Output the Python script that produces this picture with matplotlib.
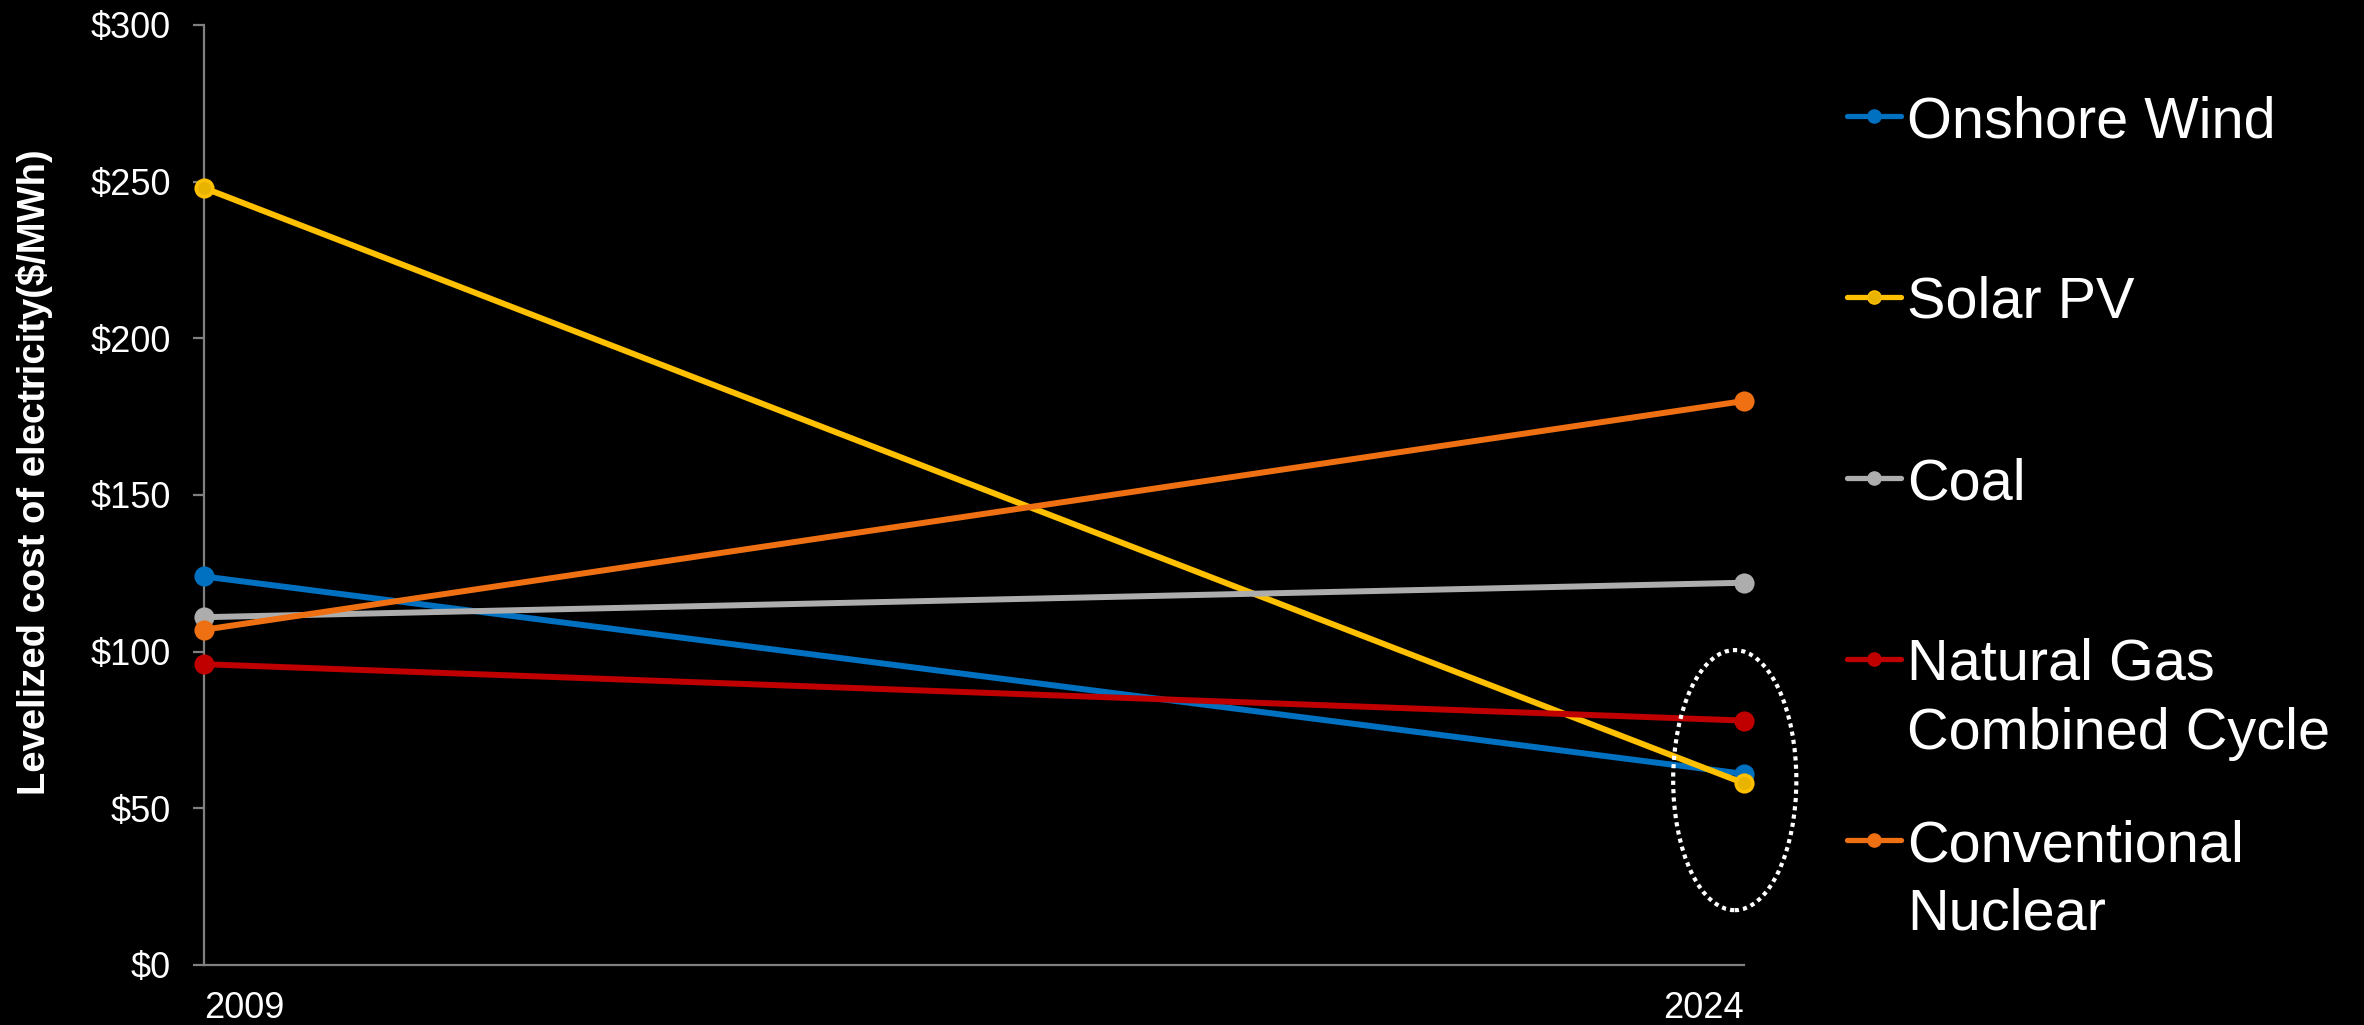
import matplotlib
matplotlib.use("Agg")
import matplotlib.pyplot as plt
from matplotlib.lines import Line2D
from matplotlib.patches import Ellipse

years = [2009, 2024]
series_names = ["Onshore Wind", "Solar PV", "Coal",
                "Natural Gas\nCombined Cycle", "Conventional\nNuclear"]
onshore_wind = [124, 61]
solar_pv = [248, 58]
coal = [111, 122]
natural_gas_cc = [96, 78]
conventional_nuclear = [107, 180]
series_values = [onshore_wind, solar_pv, coal, natural_gas_cc, conventional_nuclear]
colors = ["#0070C0", "#FFC000", "#ADADAD", "#C00000", "#EE7012"]
marker_faces = ["#0070C0", "#E8B400", "#ADADAD", "#C00000", "#EE7012"]
y_ticks = [0, 50, 100, 150, 200, 250, 300]
y_tick_labels = ["$0", "$50", "$100", "$150", "$200", "$250", "$300"]
x_tick_labels = ["2009", "2024"]
y_label = "Levelized cost of electricity($/MWh)"

plt.rcParams['font.family'] = ['Liberation Sans', 'DejaVu Sans']

W, H = 2364, 1025
fig = plt.figure(figsize=(W / 100, H / 100), dpi=100, facecolor="black")
ax = fig.add_axes([204 / W, 1 - 965 / H, (1744 - 204) / W, (965 - 25) / H])
ax.set_facecolor("black")

for vals, col, mf in zip(series_values, colors, marker_faces):
    ax.plot(years, vals, color=col, lw=4.3, marker="o", markersize=12,
            markeredgecolor=col, markerfacecolor=mf, markeredgewidth=2.5,
            solid_capstyle="round", clip_on=False, zorder=3)

ax.set_xlim(2009, 2024)
ax.set_ylim(0, 300)

for s in ["top", "right"]:
    ax.spines[s].set_visible(False)
for s in ["left", "bottom"]:
    ax.spines[s].set_color("#808080")
    ax.spines[s].set_linewidth(1.6)

ax.set_yticks(y_ticks)
ax.set_yticklabels(y_tick_labels)
ax.tick_params(axis="y", colors="#808080", length=8, width=1.6, pad=16,
               labelcolor="white", labelsize=26)
ax.set_xticks(years)
ax.set_xticklabels(x_tick_labels)
ax.tick_params(axis="x", length=0, pad=19, labelcolor="white", labelsize=26)
xl = ax.get_xticklabels()
xl[0].set_horizontalalignment("left")
xl[1].set_horizontalalignment("right")

fig.text(35 / W, 1 - 472 / H, y_label, rotation=90, ha="center", va="center",
         color="white", fontsize=27.5, fontweight="bold")

# dotted ellipse highlighting 2024 renewables
ell = Ellipse((2023.91, 59), width=1.2, height=83, fill=False,
              edgecolor="white", lw=3, linestyle=(0, (1, 1)), clip_on=False,
              zorder=4)
ax.add_patch(ell)

# manual legend
leg_y = [116, 297, 478, 659, 840]
for name, col, mf, yy in zip(series_names, colors, marker_faces, leg_y):
    yf = 1 - yy / H
    fig.add_artist(Line2D([1847 / W, 1901 / W], [yf, yf], color=col, lw=3.8,
                          solid_capstyle="round", transform=fig.transFigure))
    fig.add_artist(Line2D([1874 / W], [yf], color=col, marker="o", markersize=9.5,
                          markerfacecolor=mf, markeredgecolor=col,
                          transform=fig.transFigure))
    lines = name.split("\n")
    for i, ln in enumerate(lines):
        fig.text(1907 / W, yf - i * 69 / H, ln, color="white", fontsize=41.5,
                 ha="left", va="center_baseline")

fig.savefig("out.png", dpi=100, facecolor="black")
